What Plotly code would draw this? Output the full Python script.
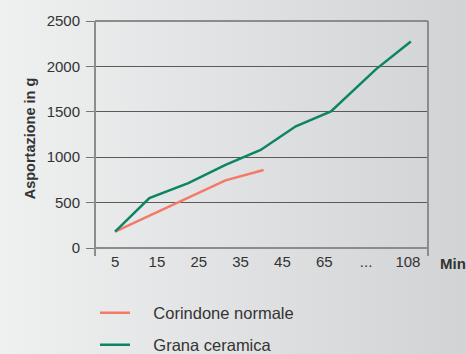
import base64
import plotly.graph_objects as go

# x tick labels (minutes) and sample positions (in tick units)
x_labels = ["5", "15", "25", "35", "45", "65", "...", "108"]
green_pos = [0, 0.82, 1.75, 2.64, 3.48, 4.32, 5.16, 6.24, 7.07]
green_vals = [180, 550, 715, 915, 1080, 1340, 1505, 1970, 2275]
red_pos = [0, 0.82, 1.75, 2.64, 3.55]
red_vals = [180, 355, 560, 745, 860]
y_ticks = [0, 500, 1000, 1500, 2000, 2500]

W, H = 466, 354
L, R, T, B = 95, 38, 21, 98
pw, ph = W - L - R, H - T - B

# soft horizontal grey gradient for the background
svg = ('<svg xmlns="http://www.w3.org/2000/svg" width="466" height="354">'
       '<defs><linearGradient id="g" x1="0" x2="1" y1="0" y2="0">'
       '<stop offset="0" stop-color="#eff0f0"/><stop offset="1" stop-color="#d2d3d5"/>'
       '</linearGradient></defs><rect width="466" height="354" fill="url(#g)"/></svg>')
bg = "data:image/svg+xml;base64," + base64.b64encode(svg.encode()).decode()

font = "Liberation Sans, Arial, sans-serif"
pad = "\u00a0" * 4  # gap between legend swatch and text


def py(px):
    # pixel row -> paper y
    return (H - B - px) / ph


def leg(y_px):
    return dict(x=0, y=py(y_px), xanchor="left", yanchor="middle",
                bgcolor="rgba(0,0,0,0)", font=dict(size=16.5, color="#333333"), itemwidth=30)


fig = go.Figure()
fig.add_trace(go.Scatter(x=red_pos, y=red_vals, mode="lines", name=pad + "Corindone normale",
                         line=dict(color="#f47a68", width=2.5), legend="legend"))
fig.add_trace(go.Scatter(x=green_pos, y=green_vals, mode="lines", name=pad + "Grana ceramica",
                         line=dict(color="#0c8466", width=2.5), legend="legend2"))

fig.update_layout(
    width=W, height=H,
    margin=dict(l=L, r=R, t=T, b=B, autoexpand=False),
    paper_bgcolor="#e1e2e4",
    plot_bgcolor="rgba(0,0,0,0)",
    font=dict(family=font, size=15, color="#333333"),
    images=[dict(source=bg, xref="paper", yref="paper",
                 x=-L / pw, y=1 + T / ph, sizex=W / pw, sizey=H / ph,
                 sizing="stretch", layer="below", xanchor="left", yanchor="top")],
    xaxis=dict(range=[-0.48, 7.48], tickvals=list(range(len(x_labels))), ticktext=x_labels,
               showgrid=False, zeroline=False, showline=False, ticks="",
               ticklabelstandoff=-5,
               tickfont=dict(size=15, color="#333333")),
    yaxis=dict(range=[-88, 2500], tickvals=y_ticks, showgrid=True,
               gridcolor="#5a5a5a", gridwidth=1,
               zeroline=True, zerolinecolor="#8c8c8c", zerolinewidth=2,
               showline=False, ticks="outside", ticklen=8, tickcolor="#777777",
               ticklabelstandoff=3,
               tickfont=dict(size=15, color="#333333"),
               title=dict(text="<b>Asportazione in g</b>", font=dict(size=14.5, color="#333333"),
                          standoff=7)),
    showlegend=True,
    legend=leg(313),
    legend2=leg(345),
    shapes=[
        dict(type="line", xref="paper", yref="paper", x0=0, x1=0, y0=0, y1=1,
             line=dict(color="#8c8c8c", width=2)),
        dict(type="line", xref="paper", yref="paper", x0=1, x1=1, y0=0, y1=1,
             line=dict(color="#8c8c8c", width=2)),
        dict(type="line", xref="paper", yref="paper", x0=0, x1=1, y0=1, y1=1,
             line=dict(color="#8c8c8c", width=2)),
    ],
    annotations=[dict(text="<b>Min</b>", xref="paper", yref="paper",
                      x=(438 - L) / pw, y=py(263), xanchor="left", yanchor="middle",
                      showarrow=False, font=dict(size=15, color="#333333"))],
)

fig.write_html("out.html", config={"displayModeBar": False},
               post_script="document.body.style.margin='0';")
